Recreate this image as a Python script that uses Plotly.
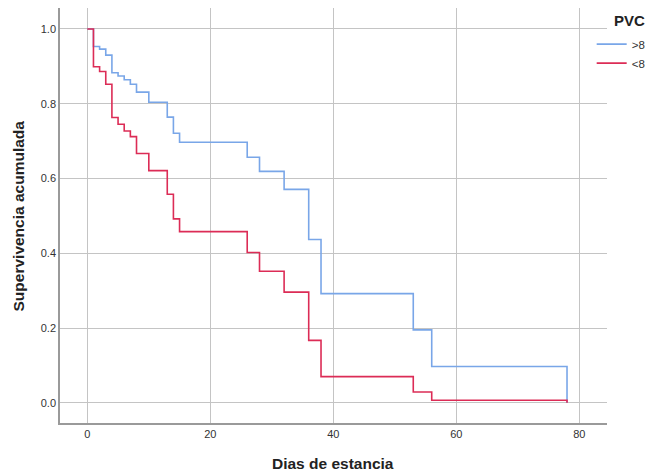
import plotly.graph_objects as go

# Kaplan-Meier step data
days_gt8 = [0, 1, 2, 3, 4, 5, 6, 7, 8, 10, 13, 14, 15, 26, 28, 32, 36, 38, 53, 56, 78]
surv_gt8 = [1.0, 0.953, 0.946, 0.930, 0.883, 0.874, 0.864, 0.852, 0.831, 0.804, 0.764,
            0.721, 0.697, 0.657, 0.619, 0.571, 0.437, 0.292, 0.195, 0.097, 0.0]

days_lt8 = [0, 1, 2, 3, 4, 5, 6, 7, 8, 10, 13, 14, 15, 26, 28, 32, 36, 38, 53, 56, 78]
surv_lt8 = [1.0, 0.899, 0.886, 0.852, 0.763, 0.745, 0.727, 0.712, 0.667, 0.621, 0.558,
            0.492, 0.458, 0.402, 0.352, 0.296, 0.167, 0.070, 0.029, 0.007, 0.0]

x_ticks = [0, 20, 40, 60, 80]
y_ticks = [0.0, 0.2, 0.4, 0.6, 0.8, 1.0]
y_ticklabels = ["0.0", "0.2", "0.4", "0.6", "0.8", "1.0"]

FONT = "Liberation Sans, Arial, sans-serif"

fig = go.Figure()
fig.add_trace(go.Scatter(x=days_gt8, y=surv_gt8, mode="lines", line_shape="hv",
                         name=">8", line=dict(color="#79a6e8", width=1.6)))
fig.add_trace(go.Scatter(x=days_lt8, y=surv_lt8, mode="lines", line_shape="hv",
                         name="<8", line=dict(color="#dc2c56", width=1.6)))

fig.update_layout(
    width=652, height=475,
    margin=dict(l=60, r=45, t=8, b=52, autoexpand=False),
    paper_bgcolor="white", plot_bgcolor="white",
    font=dict(family=FONT, size=11, color="#333333"),
    showlegend=True,
    legend=dict(
        x=0.972, xanchor="left", y=0.948, yanchor="top",
        font=dict(size=11.5, color="#333333"),
        bgcolor="rgba(0,0,0,0)", borderwidth=0,
        itemwidth=30, tracegroupgap=0,
    ),
    xaxis=dict(
        range=[-4.44, 84.5], tickmode="array", tickvals=x_ticks,
        showgrid=True, gridcolor="#c4c4c4", gridwidth=1,
        zeroline=False, showline=True, linecolor="#9a9a9a", linewidth=1.5,
        ticks="", tickfont=dict(size=11, color="#333333"),
    ),
    yaxis=dict(
        range=[-0.054, 1.056], tickmode="array", tickvals=y_ticks, ticktext=y_ticklabels,
        showgrid=True, gridcolor="#c4c4c4", gridwidth=1,
        zeroline=False, showline=True, linecolor="#9a9a9a", linewidth=1.5,
        ticks="", tickfont=dict(size=11, color="#333333"),
    ),
    annotations=[
        dict(text="<b>PVC</b>", xref="paper", yref="paper",
             x=(612 - 60) / 547, y=(423 - 20) / 415, xanchor="left", yanchor="middle",
             showarrow=False, font=dict(size=15, color="#222222", family=FONT)),
        dict(text="<b>Dias de estancia</b>", xref="paper", yref="paper",
             x=0.499, y=-0.0964, xanchor="center", yanchor="middle", showarrow=False,
             font=dict(size=15.5, color="#222222", family=FONT)),
        dict(text="<b>Supervivencia acumulada</b>", xref="paper", yref="paper",
             x=-0.075, y=0.5, xanchor="center", yanchor="middle", showarrow=False,
             textangle=-90, font=dict(size=15.5, color="#222222", family=FONT)),
    ],
)

fig.write_html("out.html", config={"displayModeBar": False},
               post_script="document.body.style.margin='0';")
